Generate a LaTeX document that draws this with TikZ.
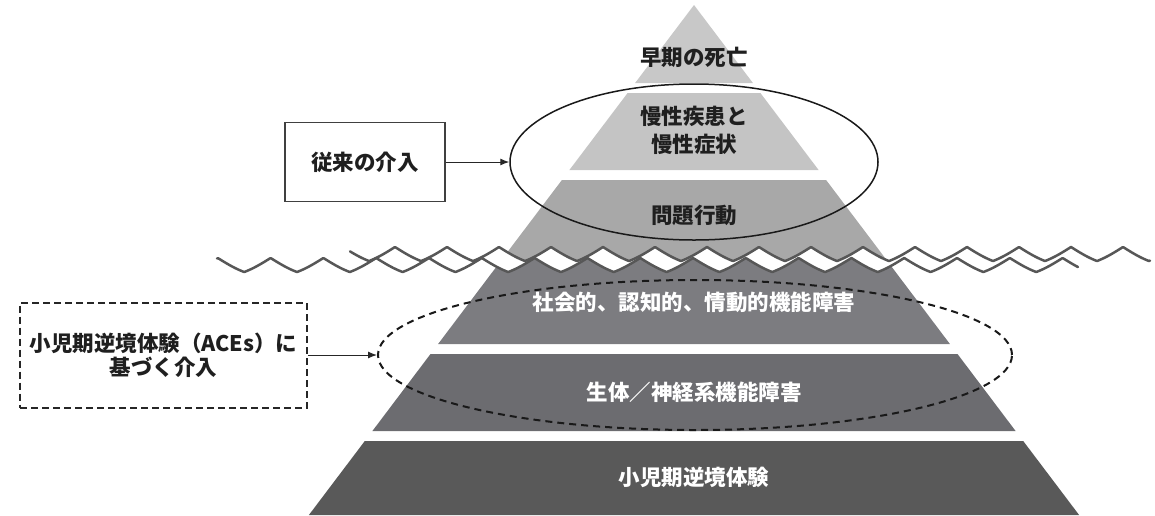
\documentclass[tikz,border=0pt]{standalone}
\usepackage{fontspec}
\setmainfont{Noto Sans CJK JP}
\usetikzlibrary{shapes.geometric,arrows.meta}
\definecolor{cL6}{HTML}{C8C8C8}
\definecolor{cL5}{HTML}{C4C4C4}
\definecolor{cL4}{HTML}{A8A8A8}
\definecolor{cL3}{HTML}{7C7C80}
\definecolor{cL2}{HTML}{6C6C70}
\definecolor{cL1}{HTML}{595959}
\definecolor{wavegray}{HTML}{575757}
\tikzset{declare function={
  wz(\t)=0.7*asin(abs(sin(\t)))/90+0.3*abs(sin(\t));
  wup(\x)=247+14*wz((\x-707)*3.4615);
  wlo(\x)=258+14*wz((\x-693)*3.409);
}}
\begin{document}
\begin{tikzpicture}[x=1pt,y=-1pt,
  lab/.style={font=\bfseries\fontsize{21.5}{28}\selectfont, align=center, inner sep=0pt},
  darklab/.style={lab, text=black!88},
  lightlab/.style={lab, text=white},
  wave/.style={draw=wavegray, line width=2.5pt, line join=round, line cap=round},
  arr/.style={-{Latex[length=9pt,width=7pt]}, line width=1pt, draw=black!85},
  ring/.style={draw=black!90, ellipse, inner sep=0pt},
  boxsolid/.style={lab, text=black!88, draw=black!75, line width=1.5pt},
  boxdash/.style={lab, text=black!88, draw=black!85, line width=2pt, dash pattern=on 7pt off 4pt}]
\useasboundingbox (0,0) rectangle (1155,515);
% pyramid layers
\fill[cL6] (694,5) -- (752.9,83) -- (635.1,83) -- cycle;
\fill[cL5] (627.6,93) -- (760.4,93) -- (818.6,170) -- (569.4,170) -- cycle;
\begin{scope}
  \clip plot[domain=300:1100,samples=500] (\x,{wup(\x)}) -- (1100,0) -- (300,0) -- cycle;
  \fill[cL4] (561.9,180) -- (826.1,180) -- (897.9,275) -- (490.1,275) -- cycle;
\end{scope}
\begin{scope}
  \clip plot[domain=300:1100,samples=500] (\x,{wlo(\x)}) -- (1100,515) -- (300,515) -- cycle;
  \fill[cL3] (512.8,245) -- (875.2,245) -- (949.9,344) -- (438.1,344) -- cycle;
\end{scope}
\fill[cL2] (430.5,354) -- (957.5,354) -- (1015.6,431) -- (372.4,431) -- cycle;
\fill[cL1] (364.8,441) -- (1023.2,441) -- (1079.1,515) -- (308.9,515) -- cycle;
% waves
\draw[wave] plot[domain=350:1150,samples=700] (\x,{wup(\x)});
\draw[wave] plot[domain=217:1078,samples=700] (\x,{wlo(\x)});
% layer labels
\node[darklab] (t6) at (694,57) {早期の死亡};
\node[darklab] (t5) at (694,130) {慢性疾患と\\慢性症状};
\node[darklab] (t4) at (694,215) {問題行動};
\node[lightlab] (t3) at (694,302) {社会的、認知的、情動的機能障害};
\node[lightlab] (t2) at (694,392) {生体／神経系機能障害};
\node[lightlab] (t1) at (694,477) {小児期逆境体験};
% ellipses
\node[ring, line width=1.5pt, minimum width=368pt, minimum height=156pt] (e1) at (694,162) {};
\node[ring, line width=2pt, dash pattern=on 7pt off 5pt, minimum width=634pt, minimum height=150pt] (e2) at (695,355) {};
% boxes
\node[boxsolid, minimum width=160pt, minimum height=79pt] (b1) at (365,162) {従来の介入};
\node[boxdash, font=\bfseries\fontsize{21.5}{24}\selectfont, minimum width=287pt, minimum height=105pt] (b2) at (163.5,355) {小児期逆境体験（ACEs）に\\基づく介入};
% arrows
\draw[arr] (b1.east) -- (e1.west);
\draw[arr] (b2.east) -- (e2.west);
\end{tikzpicture}
\end{document}
